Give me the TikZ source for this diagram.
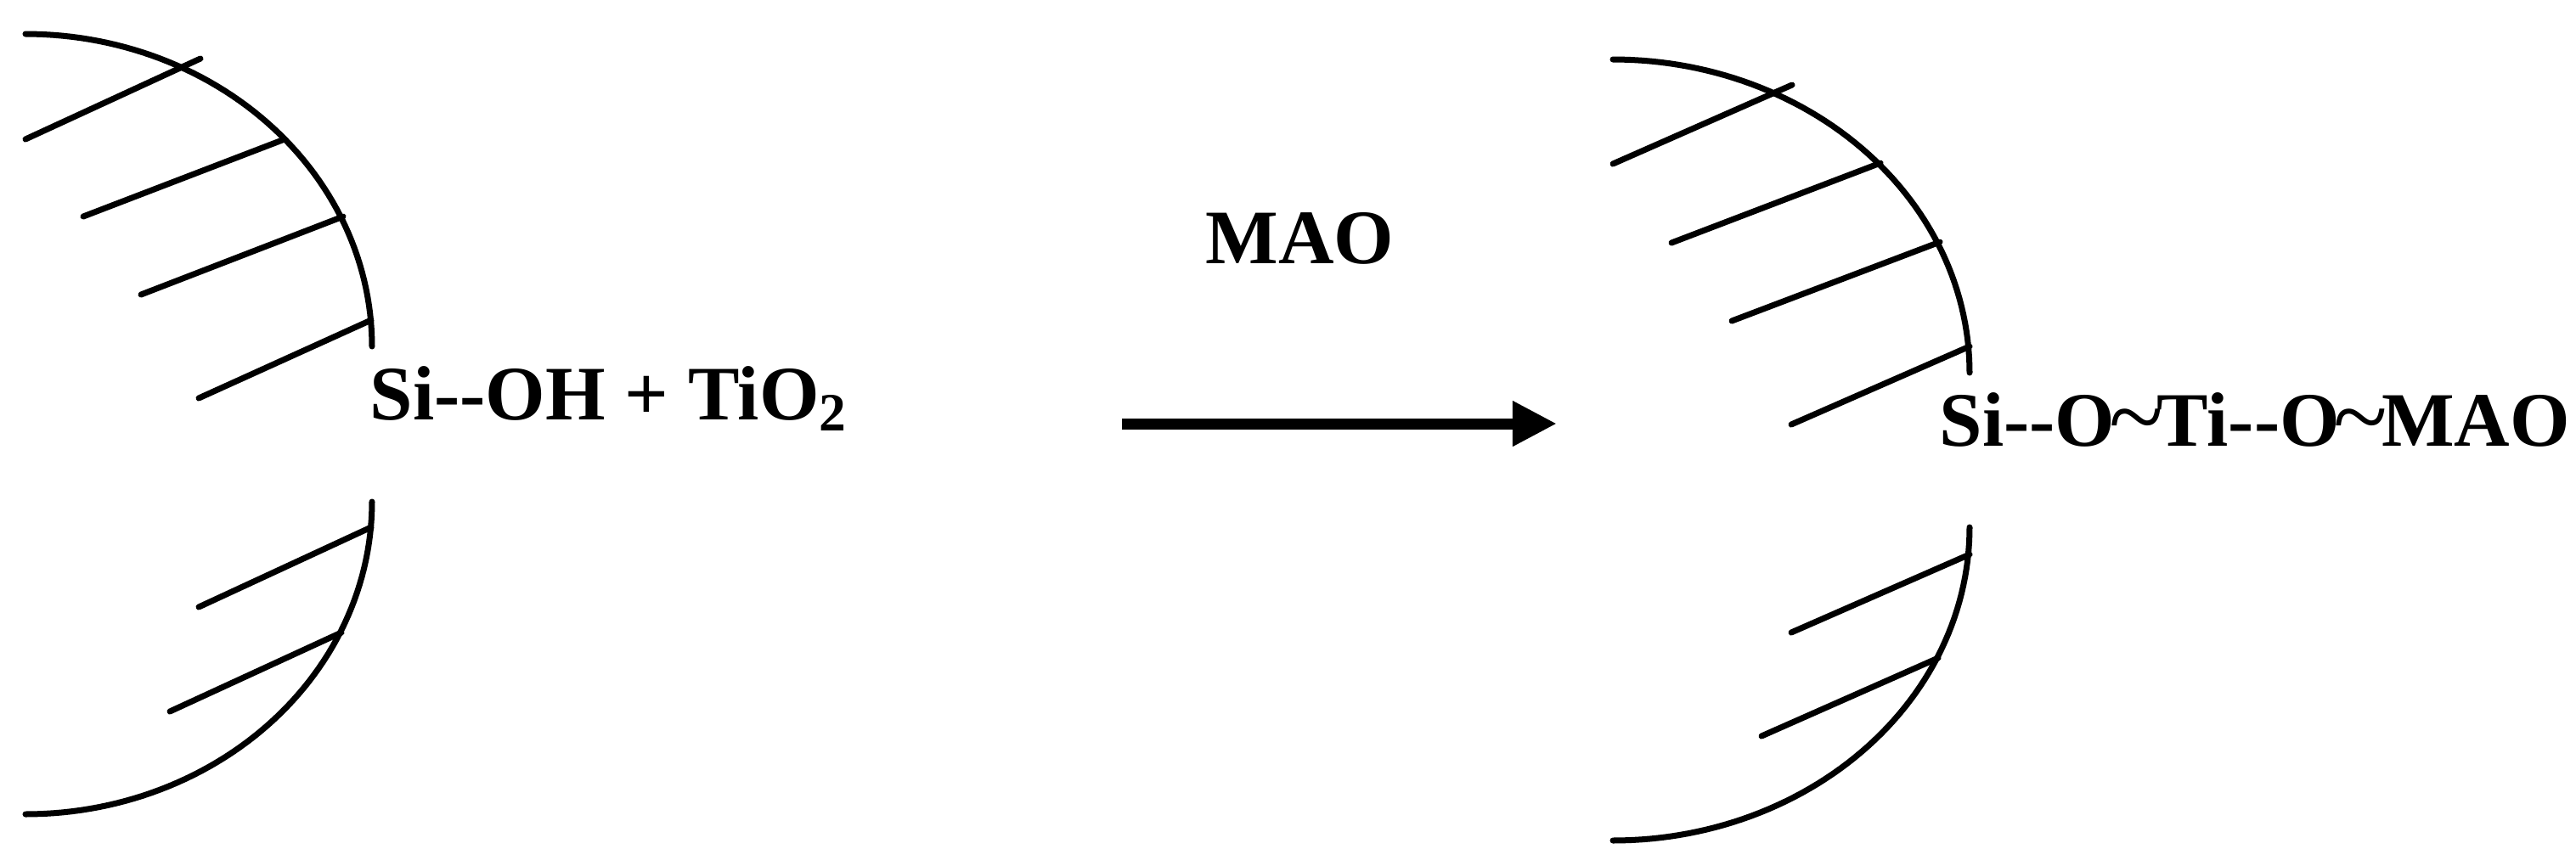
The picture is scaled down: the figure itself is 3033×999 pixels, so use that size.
\documentclass[tikz,border=0pt]{standalone}
\usepackage{fontspec}
\setmainfont{Liberation Serif}
\usetikzlibrary{arrows.meta}
\newcommand{\wave}{\kern-0.08em\raisebox{-0.06em}{\scalebox{1.3}{\mdseries\textasciitilde}}\kern-0.08em}
\tikzset{
  chemlabel/.style={anchor=base west,inner sep=0pt,font=\fontsize{25.8}{30}\selectfont\bfseries},
  shell/.style={line width=0.07cm,line cap=round},
  hatch/.style={line width=0.07cm,line cap=round}
}
\begin{document}
\begin{tikzpicture}[x=0.01cm,y=-0.01cm]
\useasboundingbox (0,0) rectangle (3033,999);

% left particle
\draw [shell,domain=0:90,samples=60] plot ({30+408*cos(\x)},{408-368*sin(\x)});
\draw [shell,domain=0:90,samples=60] plot ({30+408*cos(\x)},{591+368*sin(\x)});
\foreach \a/\b/\c/\d in {30/164/236/69, 98/255/335/164, 166/347/404/255, 234/469/437/377, 234/715/437/621, 200/838/402/745}
  \draw [hatch] (\a,\b) -- (\c,\d);
\node [chemlabel] (reactant) at (435,494) {Si-{}-OH + TiO\textsubscript{2}};

% arrow
\node [chemlabel] (catalyst) at (1419,310) {MAO};
\coordinate (arrowstart) at (1321,499);
\coordinate (arrowend) at (1833,499);
\draw [line width=0.13cm,-{Triangle[length=0.52cm,width=0.5cm]}] (arrowstart) -- (arrowend);

% right particle
\draw [shell,domain=0:90,samples=60] plot ({1899+420*cos(\x)},{439-369*sin(\x)});
\draw [shell,domain=0:90,samples=60] plot ({1899+420*cos(\x)},{621+369*sin(\x)});
\foreach \a/\b/\c/\d in {1899/193/2110/100, 1968/286/2214/192, 2039/378/2284/285, 2109/500/2319/408, 2109/745/2319/653, 2074/867/2282/775}
  \draw [hatch] (\a,\b) -- (\c,\d);
\node [chemlabel] (product) at (2283,525) {Si-{}-O\wave Ti-{}-O\wave MAO};
\end{tikzpicture}
\end{document}
